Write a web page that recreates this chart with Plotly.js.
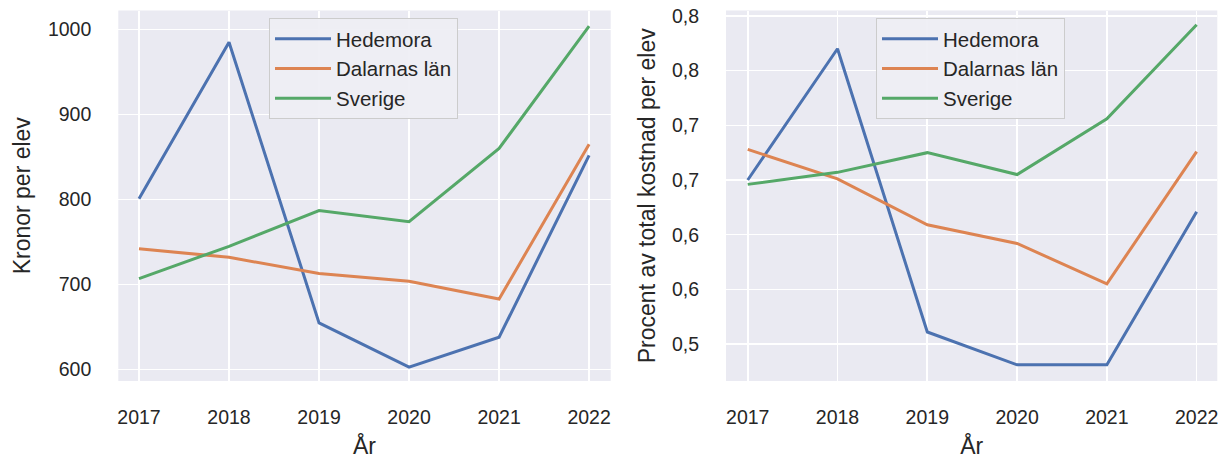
<!DOCTYPE html>
<html>
<head>
<meta charset="utf-8">
<script src="https://cdn.plot.ly/plotly-3.0.1.min.js"></script>
<style>html,body{margin:0;padding:0;background:#fff;}#chart{width:1226px;height:459px;}</style>
</head>
<body>
<div id="chart"></div>
<script>
const years = [2017, 2018, 2019, 2020, 2021, 2022];
const seriesNames = ['Hedemora', 'Dalarnas län', 'Sverige'];
const kronorHedemora = [801, 985, 655, 603, 638, 852];
const kronorDalarna = [742, 732, 713, 704, 683, 865];
const kronorSverige = [707, 745, 787, 774, 860, 1004];
const pctHedemora = [0.650, 0.770, 0.511, 0.481, 0.481, 0.621];
const pctDalarna = [0.678, 0.651, 0.609, 0.592, 0.555, 0.676];
const pctSverige = [0.646, 0.657, 0.675, 0.655, 0.706, 0.792];
const kronorTicks = [600, 700, 800, 900, 1000];
const pctTickVals = [0.50, 0.55, 0.60, 0.65, 0.70, 0.75, 0.80];
const pctTickText = ['0,5', '0,6', '0,6', '0,7', '0,7', '0,8', '0,8'];

const colors = ['#4C72B0', '#DD8452', '#55A868'];
const FONT = 'Liberation Sans, Arial, sans-serif';
const TXT = '#262626';

function tr(x, y, i, xa, ya, lg) {
  return {x: x, y: y, type: 'scatter', mode: 'lines', name: seriesNames[i],
    line: {color: colors[i], width: 3}, xaxis: xa, yaxis: ya,
    showlegend: true, legend: lg};
}
const data = [
  tr(years, kronorHedemora, 0, 'x', 'y', 'legend'),
  tr(years, kronorDalarna, 1, 'x', 'y', 'legend'),
  tr(years, kronorSverige, 2, 'x', 'y', 'legend'),
  tr(years, pctHedemora, 0, 'x2', 'y2', 'legend2'),
  tr(years, pctDalarna, 1, 'x2', 'y2', 'legend2'),
  tr(years, pctSverige, 2, 'x2', 'y2', 'legend2')
];

const W = 1226, H = 459;
const yDom = [(H - 381) / H, (H - 10.5) / H];
const titleFont = {family: FONT, size: 23, color: TXT};
const axCommon = {
  showgrid: true, gridcolor: '#ffffff', gridwidth: 1.6, zeroline: false,
  showline: false, ticks: '', automargin: false,
  tickfont: {family: FONT, size: 19.5, color: TXT}
};
function legendAt(x0) {
  return {x: x0 / W, y: (H - 18) / H, xanchor: 'left', yanchor: 'top',
    bgcolor: 'rgba(238,238,244,0.92)', bordercolor: '#cccccc', borderwidth: 1,
    font: {family: FONT, size: 20.5, color: TXT}, tracegroupgap: 0, itemwidth: 56};
}
const layout = {
  width: W, height: H,
  margin: {l: 0, r: 0, t: 0, b: 0},
  paper_bgcolor: '#ffffff', plot_bgcolor: '#EAEAF2',
  font: {family: FONT, color: TXT},
  xaxis: Object.assign({}, axCommon, {domain: [118.3 / W, 610.7 / W], anchor: 'y',
    range: [2016.77, 2022.24], tickvals: years, ticklabelstandoff: 22,
    title: {text: 'År', font: titleFont, standoff: 14}}),
  yaxis: Object.assign({}, axCommon, {domain: yDom, anchor: 'x',
    range: [586.6, 1022.3], tickvals: kronorTicks, ticklabelstandoff: 26,
    title: {text: 'Kronor per elev', font: titleFont, standoff: 10}}),
  xaxis2: Object.assign({}, axCommon, {domain: [726 / W, 1217.3 / W], anchor: 'y2',
    range: [2016.758, 2022.23], tickvals: years, ticklabelstandoff: 22,
    title: {text: 'År', font: titleFont, standoff: 14}}),
  yaxis2: Object.assign({}, axCommon, {domain: yDom, anchor: 'x2',
    range: [0.4662, 0.805], tickvals: pctTickVals, ticktext: pctTickText, ticklabelstandoff: 26,
    title: {text: 'Procent av total kostnad per elev', font: titleFont, standoff: 9}}),
  legend: legendAt(269),
  legend2: legendAt(876),
  showlegend: true
};
Plotly.newPlot('chart', data, layout, {displayModeBar: false, staticPlot: true});
</script>
</body>
</html>
